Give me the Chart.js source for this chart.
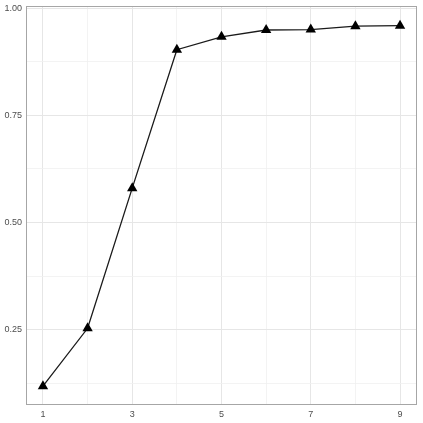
<!DOCTYPE html>
<html>
<head>
<meta charset="utf-8">
<script src="https://cdn.jsdelivr.net/npm/chart.js@4"></script>
<style>
  body { margin: 0; background: #fff; }
</style>
</head>
<body>
<canvas id="myChart" width="423" height="423"></canvas>
<script>
const xValues = [1, 2, 3, 4, 5, 6, 7, 8, 9];
const yValues = [0.118, 0.253, 0.580, 0.903, 0.933, 0.949, 0.950, 0.958, 0.959];
const xTicks = [1, 2, 3, 4, 5, 6, 7, 8, 9];
const xLabels = [1, 3, 5, 7, 9];
const yTicks = [0.125, 0.25, 0.375, 0.5, 0.625, 0.75, 0.875, 1.0];
const yLabels = [0.25, 0.5, 0.75, 1.0];

// panel border like ggplot's theme_light
const panelBorder = {
    id: 'panelBorder',
    afterDraw(chart) {
        const a = chart.chartArea;
        const ctx = chart.ctx;
        ctx.save();
        ctx.strokeStyle = '#a6a6a6';
        ctx.lineWidth = 1;
        ctx.strokeRect(Math.round(a.left) + 0.5, Math.round(a.top) + 0.5,
            Math.round(a.right - a.left) - 1, Math.round(a.bottom - a.top) - 1);
        ctx.restore();
    }
};

const isLabel = (list, v) => list.some(t => Math.abs(t - v) < 1e-6);

const getChart = document.getElementById('myChart');
const lineChart = new Chart(getChart, {
    type: 'line',
    data: {
        datasets: [{
            data: xValues.map((x, i) => ({ x: x, y: yValues[i] })),
            borderColor: '#1a1a1a',
            borderWidth: 1.3,
            backgroundColor: '#000000',
            pointStyle: 'triangle',
            pointRadius: 6,
            pointBorderWidth: 0,
            pointBackgroundColor: '#000000',
            tension: 0,
            clip: false
        }]
    },
    options: {
        responsive: false,
        animation: false,
        events: [],
        layout: { padding: { top: 5, right: 6, left: 0, bottom: 0 } },
        plugins: { legend: { display: false }, tooltip: { enabled: false } },
        scales: {
            x: {
                type: 'linear',
                min: 0.62,
                max: 9.38,
                afterBuildTicks: s => { s.ticks = xTicks.map(v => ({ value: v })); },
                afterFit: s => { s.height = 18; s.paddingLeft = 0; s.paddingRight = 0; },
                border: { display: false },
                grid: {
                    drawTicks: false,
                    color: ctx => isLabel(xLabels, ctx.tick.value) ? '#e6e6e6' : '#f0f0f0',
                    lineWidth: ctx => isLabel(xLabels, ctx.tick.value) ? 1 : 0.8
                },
                ticks: {
                    autoSkip: false,
                    maxRotation: 0,
                    padding: 4,
                    color: '#4d4d4d',
                    font: { family: 'Liberation Sans', size: 9 },
                    callback: v => isLabel(xLabels, v) ? String(v) : ''
                }
            },
            y: {
                type: 'linear',
                min: 0.074,
                max: 1.005,
                afterBuildTicks: s => { s.ticks = yTicks.map(v => ({ value: v })); },
                afterFit: s => { s.width = 26; s.paddingTop = 0; s.paddingBottom = 0; },
                border: { display: false },
                grid: {
                    drawTicks: false,
                    color: ctx => isLabel(yLabels, ctx.tick.value) ? '#e6e6e6' : '#f0f0f0',
                    lineWidth: ctx => isLabel(yLabels, ctx.tick.value) ? 1 : 0.8
                },
                ticks: {
                    autoSkip: false,
                    padding: 4,
                    color: '#4d4d4d',
                    font: { family: 'Liberation Sans', size: 9 },
                    callback: v => isLabel(yLabels, v) ? v.toFixed(2) : ''
                }
            }
        }
    },
    plugins: [panelBorder]
});
</script>
</body>
</html>
